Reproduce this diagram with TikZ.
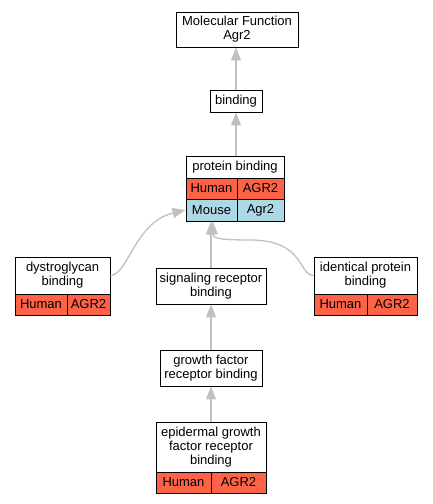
\documentclass[tikz,border=0pt]{standalone}
\usepackage{fontspec}
\setmainfont{Liberation Sans}
\usetikzlibrary{arrows.meta}
\definecolor{edgegray}{RGB}{192,192,192}
\definecolor{humanred}{RGB}{255,99,71}
\definecolor{mouseblue}{RGB}{173,216,230}
\tikzset{
  box/.style={draw=black, line width=0.9pt, fill=white, inner sep=0pt, align=center,
    font=\fontsize{13}{14}\selectfont},
  human/.style={box, fill=humanred},
  mouse/.style={box, fill=mouseblue},
  edge/.style={draw=edgegray, line width=1.3pt, -{Triangle[length=13pt,width=10pt]}},
}
\begin{document}
\begin{tikzpicture}[x=1pt,y=-1pt]
\useasboundingbox (0,0) rectangle (432,504);
% nodes
\node[box, minimum width=122, minimum height=35] (mf) at (237,29.5) {Molecular Function\\Agr2};
\node[box, minimum width=52, minimum height=22] (bind) at (236,101) {binding};
\node[box, minimum width=98, minimum height=22] (pb) at (235,167) {protein binding};
\node[human, minimum width=51, minimum height=21] (pbh1) at (211.5,188.5) {Human};
\node[human, minimum width=47, minimum height=21] (pbh2) at (260.5,188.5) {AGR2};
\node[mouse, minimum width=51, minimum height=22] (pbm1) at (211.5,210) {Mouse};
\node[mouse, minimum width=47, minimum height=22] (pbm2) at (260.5,210) {Agr2};

\node[box, minimum width=95, minimum height=37] (dg) at (62.5,275.5) {dystroglycan\\binding};
\node[human, minimum width=52, minimum height=21] (dgh1) at (41,304.5) {Human};
\node[human, minimum width=43, minimum height=21] (dgh2) at (88.5,304.5) {AGR2};

\node[box, minimum width=110, minimum height=36] (sr) at (211,286) {signaling receptor\\binding};

\node[box, minimum width=103, minimum height=37] (ip) at (365.5,275.5) {identical protein\\binding};
\node[human, minimum width=53, minimum height=21] (iph1) at (340.5,304.5) {Human};
\node[human, minimum width=50, minimum height=21] (iph2) at (392,304.5) {AGR2};

\node[box, minimum width=102, minimum height=36] (gf) at (211,368) {growth factor\\receptor binding};

\node[box, minimum width=110, minimum height=50] (egf) at (211,447) {epidermal growth\\factor receptor\\binding};
\node[human, minimum width=55, minimum height=21] (egfh1) at (183.5,482.5) {Human};
\node[human, minimum width=55, minimum height=21] (egfh2) at (238.5,482.5) {AGR2};

% edges
\draw[edge] (bind.north) -- (bind.north |- mf.south);
\draw[edge] (bind.north |- pb.north) -- (bind.south);
\draw[edge] (sr.north) -- (sr.north |- pbm1.south);
\draw[edge] (gf.north) -- (sr.south);
\draw[edge] (egf.north) -- (gf.south);
\draw[edge] (dg.east) .. controls (128,275) and (135,222) .. (pbm1.west);
\draw[edge] (ip.west) .. controls (298,275) and (305,240) .. (250,240)
  .. controls (218,240) and (213,238) .. ([xshift=1pt]pbm1.south);
\end{tikzpicture}
\end{document}
